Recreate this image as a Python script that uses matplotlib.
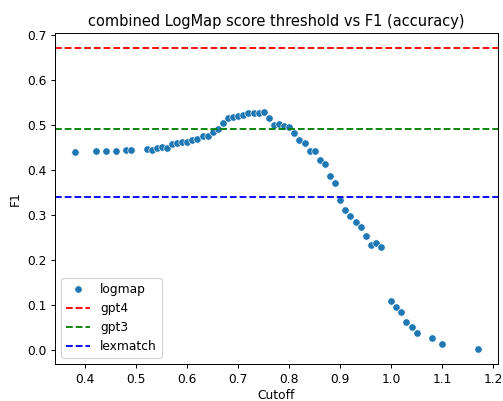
import numpy as np
import pandas as pd
import matplotlib
matplotlib.use("Agg")
import matplotlib.pyplot as plt
import seaborn as sns

# Données
cutoff = [0.38, 0.42, 0.44, 0.46, 0.48, 0.49, 0.52, 0.53, 0.54, 0.55,
          0.56, 0.57, 0.58, 0.59, 0.60, 0.61, 0.62, 0.63, 0.64, 0.65,
          0.66, 0.67, 0.68, 0.69, 0.70, 0.71, 0.72, 0.73, 0.74, 0.75,
          0.76, 0.77, 0.78, 0.79, 0.80, 0.81, 0.82, 0.83, 0.84, 0.85,
          0.86, 0.87, 0.88, 0.89, 0.90, 0.91, 0.92, 0.93, 0.94, 0.95,
          0.96, 0.97, 0.98, 1.00, 1.01, 1.02, 1.03, 1.04, 1.05, 1.08,
          1.10, 1.17]
f1 = [0.439, 0.442, 0.442, 0.442, 0.443, 0.443, 0.445, 0.443, 0.448, 0.451,
      0.448, 0.457, 0.459, 0.462, 0.461, 0.466, 0.467, 0.475, 0.475, 0.484,
      0.491, 0.503, 0.514, 0.517, 0.520, 0.521, 0.525, 0.525, 0.525, 0.527,
      0.514, 0.500, 0.502, 0.497, 0.495, 0.482, 0.465, 0.458, 0.441, 0.441,
      0.422, 0.412, 0.385, 0.371, 0.333, 0.311, 0.296, 0.284, 0.273, 0.253,
      0.232, 0.236, 0.228, 0.108, 0.095, 0.084, 0.062, 0.050, 0.037, 0.025,
      0.013, 0.0015]

gpt4 = 0.67
gpt3 = 0.49
lexmatch = 0.34

df = pd.DataFrame({'Cutoff': cutoff, 'F1': f1})

fig = plt.figure(figsize=(503/88, 401/88), dpi=88)
ax = fig.add_axes([55/503, 1-364/401, (498-55)/503, (364-33)/401])

sns.scatterplot(data=df, x='Cutoff', y='F1', label='logmap', ax=ax)
ax.axhline(gpt4, color='r', linestyle='--', label='gpt4')
ax.axhline(gpt3, color='g', linestyle='--', label='gpt3')
ax.axhline(lexmatch, color='b', linestyle='--', label='lexmatch')
ax.legend(loc='lower left')
ax.set_title('combined LogMap score threshold vs F1 (accuracy)')
ax.set_xlabel('Cutoff', labelpad=2.5)

fig.savefig('out.png', dpi=88)
